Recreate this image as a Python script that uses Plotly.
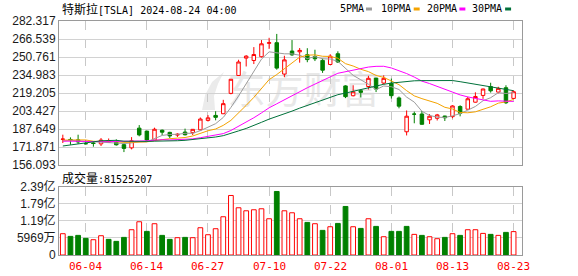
import plotly.graph_objects as go
import pandas as pd

# ---------------- data ----------------
dates = ["05-30","05-31","06-03","06-04","06-05","06-06","06-07","06-10","06-11","06-12",
         "06-13","06-14","06-17","06-18","06-20","06-21","06-24","06-25","06-26","06-27",
         "06-28","07-01","07-02","07-03","07-05","07-08","07-09","07-10","07-11","07-12",
         "07-15","07-16","07-17","07-18","07-19","07-22","07-23","07-24","07-25","07-26",
         "07-29","07-30","07-31","08-01","08-02","08-05","08-06","08-07","08-08","08-09",
         "08-12","08-13","08-14","08-15","08-16","08-19","08-20","08-21","08-22","08-23"]

opens = [178.58,178.50,178.13,174.78,175.35,174.60,176.13,176.06,173.92,171.12,
         188.39,185.80,177.92,186.56,184.68,182.30,184.97,184.40,186.92,195.17,
         199.55,201.02,218.89,234.56,249.81,247.71,251.00,262.80,263.30,235.80,
         255.97,255.31,252.73,251.09,247.79,244.21,253.60,225.42,216.80,221.19,
         224.90,232.25,227.90,227.69,214.88,185.22,200.75,200.77,195.70,197.05,
         199.02,198.47,207.39,205.02,211.15,217.07,224.88,220.00,223.82,214.46]
highs = [182.67,180.32,182.64,177.76,176.15,179.73,179.35,178.57,174.75,180.55,
         191.08,186.00,188.81,187.20,185.21,183.95,187.97,187.57,197.76,199.84,
         203.20,213.23,231.30,248.35,252.37,259.44,265.61,267.59,271.00,251.84,
         265.60,258.62,258.47,257.14,249.44,253.21,255.76,225.99,226.00,222.28,
         234.27,232.41,234.68,231.87,216.13,203.88,202.90,203.49,200.70,200.88,
         199.26,208.49,208.44,215.88,219.80,222.98,228.22,224.66,225.99,221.48]
lows = [175.38,173.82,174.49,174.00,172.13,172.73,175.58,173.17,167.41,169.80,
        181.23,176.92,177.00,182.37,179.66,180.69,182.01,182.33,186.36,194.20,
        195.26,200.85,218.06,234.25,242.46,244.57,250.30,257.86,239.65,233.09,
        251.73,245.80,246.18,247.20,236.83,243.75,245.63,214.71,216.23,215.33,
        222.28,220.00,226.79,214.33,205.78,182.00,192.67,191.48,192.04,195.11,
        194.67,197.06,198.75,204.82,210.80,214.09,219.56,218.86,209.51,214.21]
closes = [178.79,178.08,176.29,174.77,175.00,177.94,177.48,173.79,170.66,177.29,
          182.47,178.01,187.44,184.86,181.57,183.01,182.58,187.35,196.37,197.42,
          197.88,209.86,231.26,246.39,251.52,252.94,262.33,263.26,241.03,248.23,
          252.64,256.56,248.50,249.23,239.20,251.51,246.38,215.99,220.25,219.80,
          232.10,222.62,232.07,216.86,207.67,198.88,200.64,191.76,198.84,200.00,
          197.49,207.83,201.38,214.14,216.12,222.72,221.10,223.27,210.66,220.32]
# closes of the 29 sessions before the first shown day (needed by the moving averages)
prior_closes = [149.93,147.05,142.05,144.68,162.13,170.18,168.29,194.05,183.28,179.99,
                180.01,181.19,184.76,177.81,174.72,171.97,168.47,171.89,177.55,173.99,
                174.84,177.46,174.95,186.60,180.11,173.74,179.24,176.75,176.19]
# volume in millions of shares
volumes_m = [74.2,64.9,68.4,58.0,53.3,67.2,54.5,47.5,61.4,88.1,
             115.9,82.3,109.0,68.4,54.5,60.3,61.4,60.3,95.0,70.7,
             91.6,133.3,207.5,164.6,154.1,157.6,161.1,126.3,221.4,154.1,
             147.2,126.3,113.6,109.0,85.8,98.5,110.1,169.2,98.5,92.7,
             126.3,99.7,63.7,82.3,82.3,99.7,71.9,68.4,63.7,56.8,
             61.4,74.2,68.4,88.1,88.1,75.3,71.9,68.4,78.8,81.525207]

price_ticks = [156.093,171.871,187.649,203.427,219.205,234.983,250.761,266.539,282.317]
price_labels = ["156.093","171.871","187.649","203.427","219.205","234.983","250.761","266.539","282.317"]
vol_ticks = [0,59.69,119.38,179.07,238.76]
vol_labels = ["0","5969万","1.19亿","1.79亿","2.39亿"]
date_ticks = ["06-04","06-14","06-27","07-10","07-22","08-01","08-13","08-23"]
ma_periods = [5,10,20,30]
ma_names = ["5PMA","10PMA","20PMA","30PMA"]
ma_colors = ["#9b9b9b","#f4a300","#ff00ff","#00713a"]

RED = "#ff0000"
GREEN = "#008000"

# ---------------- figure ----------------
W, H = 578, 276
L, R, T, B = 56, 56, 21, 21
PW, PH = W - L - R, H - T - B

def px(X):
    return (X - L) / PW

def py(Y):
    return (H - B - Y) / PH

fig = go.Figure()

fig.add_trace(go.Candlestick(
    x=dates, open=opens, high=highs, low=lows, close=closes,
    increasing=dict(line=dict(color=RED, width=1), fillcolor="#ffffff"),
    decreasing=dict(line=dict(color=GREEN, width=1), fillcolor=GREEN),
    whiskerwidth=0, xaxis="x", yaxis="y", showlegend=False, hoverinfo="skip"))

full = pd.Series(prior_closes + closes)
for n, name, col in zip(ma_periods, ma_names, ma_colors):
    ma = full.rolling(n).mean().iloc[len(prior_closes):].tolist()
    fig.add_trace(go.Scatter(x=dates, y=ma, mode="lines", name=name,
                             line=dict(color=col, width=1), xaxis="x", yaxis="y",
                             showlegend=False, hoverinfo="skip"))

prev = [prior_closes[-1]] + closes[:-1]
up = [c >= p for c, p in zip(closes, prev)]
fig.add_trace(go.Bar(
    x=dates, y=volumes_m, width=0.62,
    marker=dict(color=["#ffffff" if u else GREEN for u in up],
                line=dict(color=[RED if u else GREEN for u in up], width=1)),
    xaxis="x2", yaxis="y2", showlegend=False, hoverinfo="skip"))

xr = [-0.5, 60.1]
common_x = dict(type="category", range=xr, tickvals=date_ticks, ticktext=date_ticks,
                showgrid=True, gridcolor="#c8c8c8", griddash="dash", gridwidth=1,
                showline=True, mirror=True, linecolor="#9a9a9a", linewidth=1,
                zeroline=False, ticks="", fixedrange=True, showticklabels=False)
yfont = dict(family="Liberation Sans, Noto Sans CJK SC", size=12, color="#1a1a1a")

fig.update_layout(
    width=W, height=H, margin=dict(l=L, r=R, t=T, b=B, pad=0),
    paper_bgcolor="#ffffff", plot_bgcolor="#ffffff",
    boxgap=0.35, bargap=0.35,
    xaxis=dict(domain=[0, 1], anchor="y", rangeslider=dict(visible=False), **common_x),
    yaxis=dict(domain=[py(165), 1], range=[price_ticks[0], price_ticks[-1]],
               tickvals=price_ticks, ticktext=price_labels, tickfont=yfont,
               showgrid=True, gridcolor="#d2d2d2", gridwidth=1,
               showline=True, mirror=True, linecolor="#9a9a9a", zeroline=False, ticks=""),
    xaxis2=dict(domain=[0, 1], anchor="y2", **common_x),
    yaxis2=dict(domain=[0, py(186.5)], range=[0, vol_ticks[-1]],
                tickvals=vol_ticks, ticktext=vol_labels, tickfont=yfont,
                showgrid=True, gridcolor="#d2d2d2", gridwidth=1,
                showline=True, mirror=True, linecolor="#9a9a9a", zeroline=False, ticks=""),
)

cjk = "font-family:'Noto Sans CJK SC';font-size:12px"
annotations = [
    dict(x=px(57), y=py(9), xref="paper", yref="paper", xanchor="left", yanchor="middle",
         text=f"<span style=\"{cjk}\">特斯拉</span>[TSLA] 2024-08-24 04:00",
         showarrow=False, font=dict(family="DejaVu Sans Mono", size=10, color="#000000")),
    dict(x=px(57), y=py(177), xref="paper", yref="paper", xanchor="left", yanchor="middle",
         text=f"<span style=\"{cjk}\">成交量</span>:81525207",
         showarrow=False, font=dict(family="DejaVu Sans Mono", size=10, color="#000000")),
]
# date labels under the volume panel (red, like the reference)
for d in date_ticks:
    annotations.append(dict(x=d, y=py(266), xref="x2", yref="paper",
                            xanchor="center", yanchor="middle", text=d, showarrow=False,
                            font=dict(family="DejaVu Sans Mono", size=11, color=RED)))
shapes = []
leg_text_x = [351, 395, 441, 487]
leg_box_x = [365, 413, 459, 505]
for name, col, tx, bx in zip(ma_names, ma_colors, leg_text_x, leg_box_x):
    annotations.append(dict(x=px(tx), y=py(9), xref="paper", yref="paper",
                            xanchor="center", yanchor="middle", text=name, showarrow=False,
                            font=dict(family="DejaVu Sans Mono", size=10, color="#000000")))
    shapes.append(dict(type="rect", xref="paper", yref="paper",
                       x0=px(bx), x1=px(bx + 6), y0=py(10.5), y1=py(7.5),
                       fillcolor=col, line=dict(width=0)))

# watermark (logo swoosh + text), drawn between grid and traces
pts = [(200, 110), (203, 95), (210, 82), (222, 72), (216, 84), (212, 96), (213, 110)]
path = "M " + " L ".join(f"{px(a):.4f},{py(b):.4f}" for a, b in pts) + " Z"
shapes.append(dict(type="path", xref="paper", yref="paper", path=path,
                   fillcolor="#ebebeb", line=dict(width=0), layer="between"))
shapes.append(dict(type="rect", xref="paper", yref="paper",
                   x0=px(222), x1=px(382), y0=py(112), y1=py(72),
                   line=dict(width=0), fillcolor="rgba(0,0,0,0)", layer="between",
                   label=dict(text="东方财富", textposition="middle center",
                              font=dict(family="Noto Sans CJK SC", size=38, color="#e8e8e8"))))

fig.update_layout(annotations=annotations, shapes=shapes)

fig.write_html("out.html")
